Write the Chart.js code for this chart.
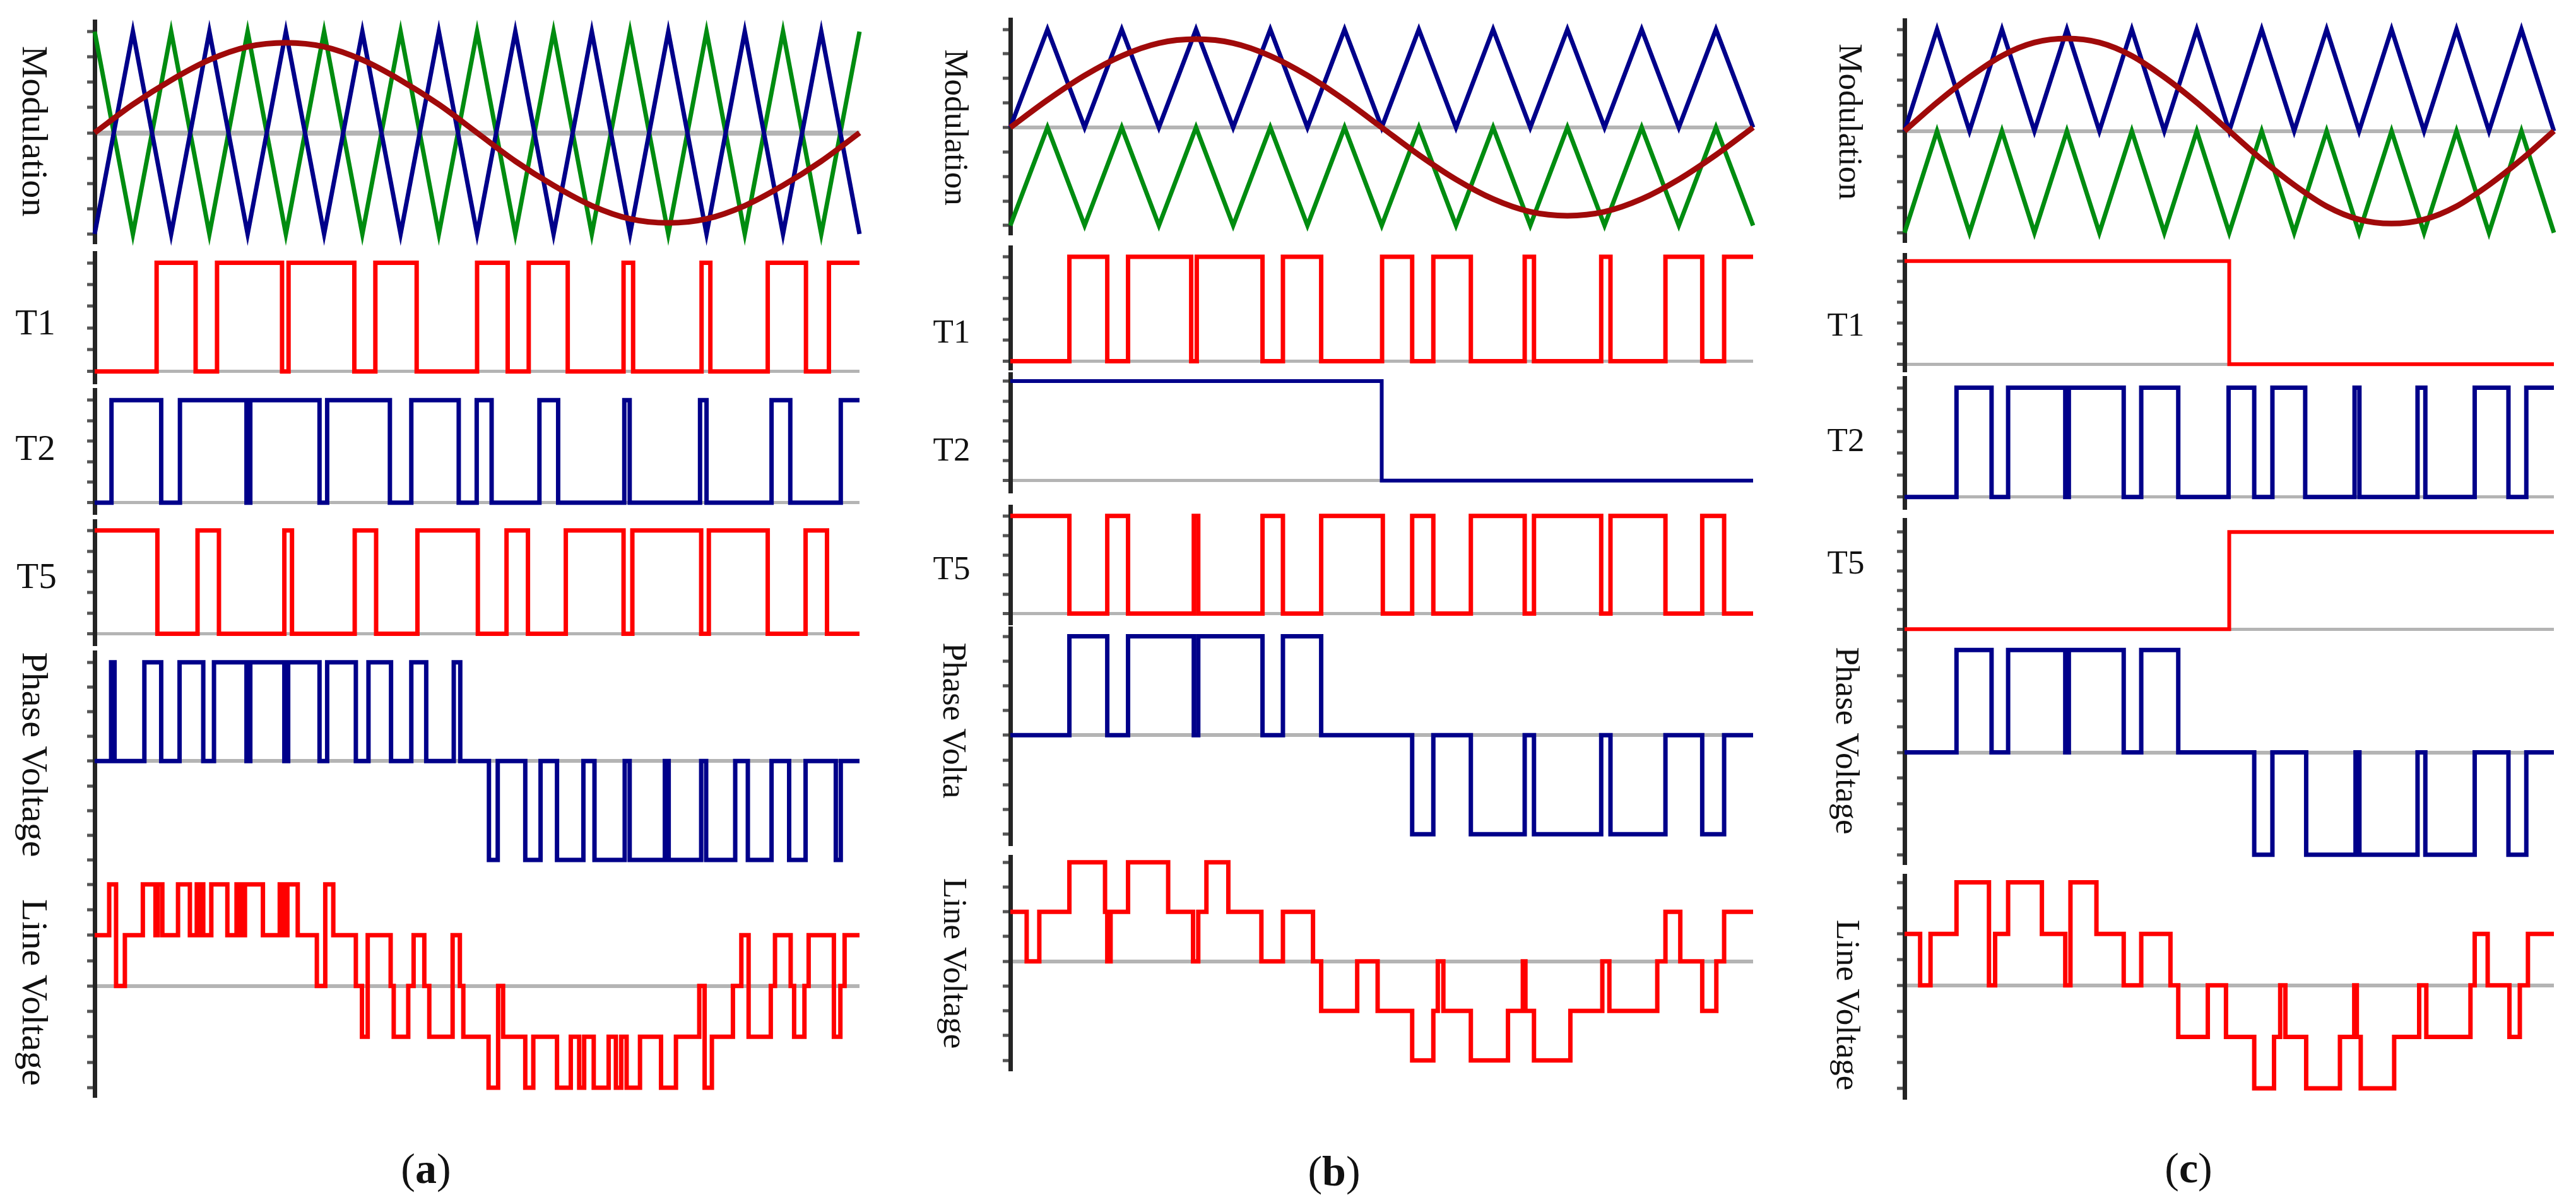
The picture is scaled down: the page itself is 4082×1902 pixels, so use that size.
<!DOCTYPE html>
<html><head><meta charset="utf-8">
<script src="https://cdn.jsdelivr.net/npm/chart.js@4.4.0/dist/chart.umd.min.js"></script>
<style>
html,body{margin:0;padding:0;background:#fff;}
body{width:4082px;height:1902px;position:relative;overflow:hidden;font-family:"Liberation Serif","Times New Roman",serif;color:#111;}
canvas{position:absolute;}
.lbl{position:absolute;white-space:nowrap;line-height:1;transform:translate(-50%,-50%);}
.rot{transform:translate(-50%,-50%) rotate(90deg);}
.cap{position:absolute;white-space:nowrap;line-height:1;transform:translate(-50%,-50%);font-size:68px;}
</style></head><body>
<script>
// ---------- time base (ms, one fundamental period) ----------
const carrierTimes = [0,1,2,3,4,5,6,7,8,9,10,11,12,13,14,15,16,17,18,19,20];
const sineTimes    = [0,1,2,3,4,5,6,7,8,9,10,11,12,13,14,15,16,17,18,19,20];

// ---------- tick values ----------
const modTicks   = [-1,-0.75,-0.5,-0.25,0,0.25,0.5,0.75,1];
const gateTicks  = [0,0.2,0.4,0.6,0.8,1];
const phaseTicks = [-1,-0.75,-0.5,-0.25,0,0.25,0.5,0.75,1];
const lineTicks  = [-2,-1.5,-1,-0.5,0,0.5,1,1.5,2];

// ---------- (a) ----------
const sineA   = [0,0.28,0.52,0.72,0.85,0.89,0.85,0.72,0.52,0.28,0,-0.28,-0.52,-0.72,-0.85,-0.89,-0.85,-0.72,-0.52,-0.28,0];
const blueA   = [-1,1,-1,1,-1,1,-1,1,-1,1,-1,1,-1,1,-1,1,-1,1,-1,1,-1];
const greenA  = [1,-1,1,-1,1,-1,1,-1,1,-1,1,-1,1,-1,1,-1,1,-1,1,-1,1];
const t1A_t   = [0,1.62,2.64,3.2,4.9,5.07,6.79,7.34,8.42,10.0,10.8,11.35,12.37,13.83,14.08,15.87,16.1,17.6,18.6,19.2,20];
const t1A_v   = [0,1,0,1,0,1,0,1,0,1,0,1,0,1,0,1,0,1,0,1,1];
const t2A_t   = [0,0.44,1.74,2.23,3.97,4.07,5.88,6.08,7.72,8.28,9.52,9.99,10.38,11.63,12.12,13.85,13.99,15.83,16.0,17.7,18.19,19.51,20];
const t2A_v   = [0,1,0,1,0,1,0,1,0,1,0,1,0,1,0,1,0,1,0,1,0,1,1];
const t5A_t   = [0,1.64,2.69,3.25,4.96,5.16,6.8,7.36,8.44,10.02,10.77,11.33,12.32,13.83,14.06,15.86,16.06,17.6,18.59,19.15,20];
const t5A_v   = [1,0,1,0,1,0,1,0,1,0,1,0,1,0,1,0,1,0,1,0,0];
const phA_t   = [0,0.43,0.52,1.30,1.74,2.22,2.84,3.12,3.97,4.07,4.96,5.06,5.88,6.08,6.83,7.16,7.75,8.28,8.67,9.39,9.56,
                 10.31,10.54,11.26,11.66,12.09,12.78,13.07,13.86,13.99,14.91,15.01,15.86,15.99,16.75,17.08,17.70,18.16,18.59,19.38,19.51,20];
const phA_v   = [0,1,0,1,0,1,0,1,0,1,0,1,0,1,0,1,0,1,0,1,0,
                 -1,0,-1,0,-1,0,-1,0,-1,0,-1,0,-1,0,-1,0,-1,0,-1,0,0];
const lnA_t   = [0,0.38,0.56,0.79,1.26,1.59,1.65,1.77,2.18,2.49,
                 2.67,2.72,2.80,2.84,3.05,3.47,3.71,3.82,3.93,4.40,
                 4.84,4.95,5.04,5.31,5.81,6.03,6.24,6.83,6.99,7.14,
                 7.74,7.82,8.20,8.34,8.62,8.75,9.36,9.55,9.64,10.30,
                 10.55,10.68,11.26,11.47,12.09,12.45,12.67,12.80,13.05,13.44,
                 13.63,13.77,13.91,14.26,14.81,15.20,15.81,15.95,16.14,16.69,
                 16.91,17.10,17.68,17.79,18.20,18.29,18.56,18.67,19.33,19.50,
                 19.61,20];
const lnA_v   = [1,2,0,1,2,1,2,1,2,1,
                 2,1,2,1,2,1,2,1,2,1,
                 2,1,2,1,0,2,1,0,-1,1,
                 0,-1,0,1,0,-1,1,0,-1,-2,
                 0,-1,-2,-1,-2,-1,-2,-1,-2,-1,
                 -2,-1,-2,-1,-2,-1,0,-2,-1,0,
                 1,-1,0,1,0,-1,0,1,-1,0,
                 1,1];

// ---------- (b) ----------
const sineB   = [0,0.28,0.53,0.73,0.86,0.90,0.86,0.73,0.53,0.28,0,-0.28,-0.53,-0.73,-0.86,-0.90,-0.86,-0.73,-0.53,-0.28,0];
const upperB  = [0,1,0,1,0,1,0,1,0,1,0,1,0,1,0,1,0,1,0,1,0];
const lowerB  = [-1,0,-1,0,-1,0,-1,0,-1,0,-1,0,-1,0,-1,0,-1,0,-1,0,-1];
const t1B_t   = [0,1.59,2.61,3.17,4.87,5.02,6.79,7.34,8.37,10.01,10.82,11.39,12.40,13.85,14.10,15.91,16.16,17.64,18.63,19.22,20];
const t1B_v   = [0,1,0,1,0,1,0,1,0,1,0,1,0,1,0,1,0,1,0,1,1];
const t2B_t   = [0,10.0,20];
const t2B_v   = [1,0,0];
const t5B_t   = [0,1.59,2.61,3.17,4.94,5.06,6.79,7.34,8.37,10.03,10.82,11.39,12.40,13.85,14.10,15.91,16.16,17.64,18.63,19.22,20];
const t5B_v   = [1,0,1,0,1,0,1,0,1,0,1,0,1,0,1,0,1,0,1,0,0];
const phB_t   = [0,1.59,2.61,3.17,4.94,5.06,6.79,7.34,8.37,10.82,11.39,12.40,13.85,14.10,15.91,16.16,17.64,18.63,19.22,20];
const phB_v   = [0,1,0,1,0,1,0,1,0,-1,0,-1,0,-1,0,-1,0,-1,0,0];
const lnB_t   = [0,0.44,0.78,1.59,2.55,2.61,2.70,3.17,4.25,4.92,
                 5.06,5.28,5.87,6.76,7.34,8.15,8.37,9.34,9.89,10.82,
                 11.39,11.51,11.66,12.40,13.40,13.80,13.87,14.10,15.08,15.94,
                 16.13,17.42,17.64,18.04,18.63,19.01,19.22,20];
const lnB_v   = [1,0,1,2,1,0,1,2,1,0,
                 1,2,1,0,1,0,-1,0,-1,-2,
                 -1,0,-1,-2,-1,0,-1,-2,-1,0,
                 -1,0,1,0,-1,0,1,1];

// ---------- (c) ----------
const sineC   = [0,0.28,0.53,0.74,0.87,0.91,0.87,0.74,0.53,0.28,0,-0.28,-0.53,-0.74,-0.87,-0.91,-0.87,-0.74,-0.53,-0.28,0];
const upperC  = [0,1,0,1,0,1,0,1,0,1,0,1,0,1,0,1,0,1,0,1,0];
const lowerC  = [-1,0,-1,0,-1,0,-1,0,-1,0,-1,0,-1,0,-1,0,-1,0,-1,0,-1];
const t1C_t   = [0,10.0,20];
const t1C_v   = [1,0,0];
const t2C_t   = [0,1.60,2.68,3.19,4.95,5.06,6.75,7.29,8.43,9.98,10.77,11.33,12.34,13.86,14.01,15.80,16.04,17.56,18.60,19.15,20];
const t2C_v   = [0,1,0,1,0,1,0,1,0,1,0,1,0,1,0,1,0,1,0,1,1];
const t5C_t   = [0,10.0,20];
const t5C_v   = [0,1,1];
const phC_t   = [0,1.60,2.68,3.19,4.95,5.06,6.75,7.29,8.43,10.77,11.33,12.37,13.89,14.01,15.80,16.04,17.56,18.60,19.15,20];
const phC_v   = [0,1,0,1,0,1,0,1,0,-1,0,-1,0,-1,0,-1,0,-1,0,0];
const lnC_t   = [0,0.48,0.80,1.60,2.60,2.79,3.19,4.23,4.95,5.11,
                 5.91,6.75,7.29,8.19,8.43,9.34,9.90,10.77,11.38,11.57,
                 11.73,12.37,13.41,13.85,13.93,14.05,15.08,15.85,16.07,17.43,
                 17.56,17.96,18.63,18.95,19.20,20];
const lnC_v   = [1,0,1,2,0,1,2,1,0,2,
                 1,0,1,0,-1,0,-1,-2,-1,0,
                 -1,-2,-1,0,-1,-2,-1,0,-1,0,
                 1,0,-1,0,1,1];

// ---------- styling ----------
const RED = '#ff0000', NAVY = '#00008a', GREEN = '#008c10', DRED = '#a00a0a';

function pts(ts, vs){ return ts.map((t,i)=>({x:t, y:vs[i]})); }
function stepDs(ts, vs, color, w){
  return {data:pts(ts,vs), borderColor:color, borderWidth:w, stepped:true, pointRadius:0, fill:false, clip:false, borderJoinStyle:'miter', borderCapStyle:'butt'};
}
function lineDs(ts, vs, color, w, smooth){
  const d = {data:pts(ts,vs), borderColor:color, borderWidth:w, pointRadius:0, fill:false, clip:false, tension:0, borderJoinStyle:'miter'};
  if (smooth) d.cubicInterpolationMode = 'monotone';
  return d;
}

function makeChart(box, yMin, yMax, ticks, datasets, zeroW){
  const padL = 16, padR = 8, padT = 8, padB = 8;
  const cv = document.createElement('canvas');
  const W = box[2]-box[0]+padL+padR, H = box[3]-box[1]+padT+padB;
  cv.width = W; cv.height = H;
  cv.style.width = W+'px'; cv.style.height = H+'px';
  cv.style.left = (box[0]-padL)+'px'; cv.style.top = (box[1]-padT)+'px';
  document.body.appendChild(cv);
  new Chart(cv, {
    type:'line',
    data:{datasets},
    options:{
      responsive:false, animation:false, devicePixelRatio:1, events:[],
      layout:{padding:{left:0,right:padR,top:padT,bottom:padB}},
      plugins:{legend:{display:false}, tooltip:{enabled:false}},
      scales:{
        x:{type:'linear', min:0, max:20, display:false},
        y:{type:'linear', min:yMin, max:yMax,
           afterFit:s=>{s.width = padL;},
           afterBuildTicks:s=>{s.ticks = ticks.map(v=>({value:v}));},
           ticks:{display:false},
           border:{display:true, color:'#242424', width:7},
           grid:{drawOnChartArea:true, drawTicks:true, tickLength:12, tickWidth:5, tickColor:'#555',
                 color:c=>(c.tick && c.tick.value===0)?'#b4b4b4':'rgba(0,0,0,0)',
                 lineWidth:c=>(c.tick && c.tick.value===0)?zeroW:0}}
      }
    }
  });
}

function label(text, x, y, size, rot){
  const d = document.createElement('div');
  d.className = 'lbl' + (rot?' rot':'');
  d.style.left = x+'px'; d.style.top = y+'px'; d.style.fontSize = size+'px';
  d.textContent = text;
  document.body.appendChild(d);
}
function caption(letter, x, y){
  const d = document.createElement('div');
  d.className = 'cap';
  d.style.left = x+'px'; d.style.top = y+'px';
  d.append('(');
  const b = document.createElement('b'); b.textContent = letter; d.appendChild(b);
  d.append(')');
  document.body.appendChild(d);
}

// ---------- panel (a) ----------
makeChart([150,34,1362,387], -1.1, 1.1, modTicks,
  [lineDs(sineTimes,sineA,DRED,9,true), lineDs(carrierTimes,blueA,NAVY,7), lineDs(carrierTimes,greenA,GREEN,7)], 8);
makeChart([150,401,1362,606], -0.1, 1.09, gateTicks, [stepDs(t1A_t,t1A_v,RED,7)], 5);
makeChart([150,618,1362,813], -0.1, 1.1, gateTicks, [stepDs(t2A_t,t2A_v,NAVY,7)], 5);
makeChart([150,826,1362,1021], -0.1, 1.09, gateTicks, [stepDs(t5A_t,t5A_v,RED,7)], 5);
makeChart([150,1034,1362,1385], -1.14, 1.1, phaseTicks, [stepDs(phA_t,phA_v,NAVY,7)], 6);
makeChart([150,1388,1362,1740], -2.2, 2.17, lineTicks, [stepDs(lnA_t,lnA_v,RED,7)], 6);

// ---------- panel (b) ----------
makeChart([1601,31,2778,373], -1.1, 1.1, modTicks,
  [lineDs(sineTimes,sineB,DRED,9,true), lineDs(carrierTimes,upperB,NAVY,7), lineDs(carrierTimes,lowerB,GREEN,7)], 6);
makeChart([1601,392,2778,584], -0.07, 1.09, gateTicks, [stepDs(t1B_t,t1B_v,RED,7)], 5);
makeChart([1601,593,2778,779], -0.11, 1.07, gateTicks, [stepDs(t2B_t,t2B_v,NAVY,6)], 5);
makeChart([1601,803,2778,988], -0.1, 1.095, gateTicks, [stepDs(t5B_t,t5B_v,RED,7)], 5);
makeChart([1601,996,2778,1341], -1.12, 1.08, phaseTicks, [stepDs(phB_t,phB_v,NAVY,7)], 6);
makeChart([1601,1358,2778,1698], -2.22, 2.11, lineTicks, [stepDs(lnB_t,lnB_v,RED,7)], 6);

// ---------- panel (c) ----------
makeChart([3018,32,4047,385], -1.1, 1.09, modTicks,
  [lineDs(sineTimes,sineC,DRED,9,true), lineDs(carrierTimes,upperC,NAVY,7), lineDs(carrierTimes,lowerC,GREEN,7)], 6);
makeChart([3018,404,4047,587], -0.06, 1.06, gateTicks, [stepDs(t1C_t,t1C_v,RED,6)], 5);
makeChart([3018,599,4047,805], -0.1, 1.09, gateTicks, [stepDs(t2C_t,t2C_v,NAVY,7)], 5);
makeChart([3018,824,4047,1008], -0.07, 1.125, gateTicks, [stepDs(t5C_t,t5C_v,RED,6)], 5);
makeChart([3018,1014,4047,1371], -1.1, 1.1, phaseTicks, [stepDs(phC_t,phC_v,NAVY,7)], 6);
makeChart([3018,1388,4047,1743], -2.22, 2.13, lineTicks, [stepDs(lnC_t,lnC_v,RED,7)], 6);

// ---------- labels ----------
label('Modulation', 55, 208, 58, true);
label('T1', 56, 510, 57, false);
label('T2', 56, 709, 57, false);
label('T5', 58, 912, 57, false);
label('Phase Voltage', 55, 1196, 58, true);
label('Line Voltage', 55, 1573, 58, true);

label('Modulation', 1515, 202, 53, true);
label('T1', 1508, 525, 53, false);
label('T2', 1508, 712, 53, false);
label('T5', 1508, 900, 53, false);
label('Phase Volta', 1512, 1142, 53, true);
label('Line Voltage', 1513, 1527, 53, true);

label('Modulation', 2932, 193, 53, true);
label('T1', 2925, 514, 53, false);
label('T2', 2925, 697, 53, false);
label('T5', 2925, 891, 53, false);
label('Phase Voltage', 2927, 1174, 53, true);
label('Line Voltage', 2928, 1593, 53, true);

caption('a', 675, 1852);
caption('b', 2114, 1856);
caption('c', 3468, 1851);
</script>
</body></html>
